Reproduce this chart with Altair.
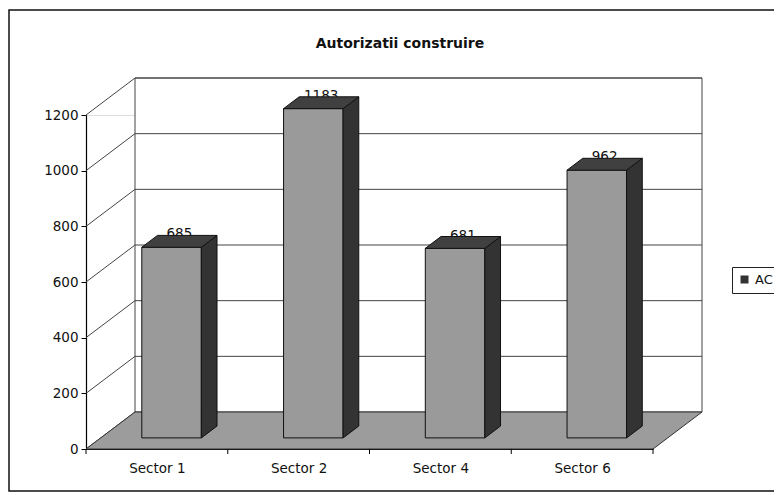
import json
import altair as alt
import pandas as pd

# ---- data ----
CATEGORIES = ["Sector 1", "Sector 2", "Sector 4", "Sector 6"]
VALUES = [685, 1183, 681, 962]
SERIES = "AC"
TITLE = "Autorizatii construire"
Y_TICKS = [0, 200, 400, 600, 800, 1000, 1200]

# ---- geometry (pixels) ----
W, H = 567, 334
Y_MAX = 1200
N = len(CATEGORIES)
DEPTH_X_PX, DEPTH_Y_PX = 49, 37
DXU = DEPTH_X_PX / W * N          # depth in x data units
DYU = DEPTH_Y_PX / H * Y_MAX      # depth in y data units
F0, F1 = 0.30, 0.62               # bar front / back depth fraction
BAR_W = 0.42                      # bar width as fraction of band
FONT = "DejaVu Sans"
FS = 13.5

front_rows, side_rows, top_rows, label_rows = [], [], [], []
for i, (cat, v) in enumerate(zip(CATEGORIES, VALUES)):
    x0 = i + 0.5 - BAR_W / 2 + F0 * DXU
    x1 = x0 + BAR_W
    d = (F1 - F0) * DXU
    front_rows.append(dict(cat=cat, x0=x0, x1=x1, y0=F0 * DYU, y1=v + F0 * DYU))
    side_rows += [
        dict(cat=cat, series=SERIES, x=x1, lo=F0 * DYU, hi=v + F0 * DYU),
        dict(cat=cat, series=SERIES, x=x1 + d, lo=F1 * DYU, hi=v + F1 * DYU),
    ]
    top_rows += [
        dict(cat=cat, y=v + F0 * DYU, xa=x0, xb=x1),
        dict(cat=cat, y=v + F1 * DYU, xa=x0 + d, xb=x1 + d),
    ]
    label_rows.append(dict(cat=cat, x=(x0 + x1) / 2 + d / 2, y=v + F1 * DYU, label=str(v)))

front_df = pd.DataFrame(front_rows)
side_df = pd.DataFrame(side_rows)
top_df = pd.DataFrame(top_rows)
label_df = pd.DataFrame(label_rows)

wall_df = pd.DataFrame([dict(x=DXU, x2=N + DXU, y=DYU, y2=Y_MAX + DYU)])
grid_df = pd.DataFrame([dict(x=DXU, x2=N + DXU, y=t + DYU) for t in Y_TICKS[1:]])
side_grid_df = pd.DataFrame([dict(x=0, x2=DXU, y=t, y2=t + DYU) for t in Y_TICKS])
floor_df = pd.DataFrame([dict(y=0, xa=0, xb=N), dict(y=DYU, xa=DXU, xb=N + DXU)])
tick_df = pd.DataFrame([dict(x=b) for b in range(N + 1)])
frame_df = pd.DataFrame([dict(k=1)])
title_df = pd.DataFrame([dict(t=TITLE)])

XS = alt.Scale(domain=[0, N], nice=False, zero=False)
YS = alt.Scale(domain=[0, Y_MAX], nice=False, zero=False)

label_expr = json.dumps(CATEGORIES) + "[floor(datum.value)]"

x_axis = alt.Axis(values=[i + 0.5 for i in range(N)], labelExpr=label_expr, ticks=False,
                  tickSize=0, grid=False, title=None, domainColor="#000", domainWidth=1.2,
                  labelFont=FONT, labelFontSize=FS, labelColor="#111", labelPadding=12)
y_axis = alt.Axis(values=Y_TICKS, grid=False, title=None, tickSize=5, tickColor="#000",
                  domainColor="#000", domainWidth=1.2, labelFont=FONT, labelFontSize=FS,
                  labelColor="#111", labelPadding=3, format="d")


def X(field):
    return alt.X(field, scale=XS, axis=x_axis)


def Y(field):
    return alt.Y(field, scale=YS, axis=y_axis)


frame = alt.Chart(frame_df).mark_rect(fill=None, stroke="#111", strokeWidth=1.5).encode(
    x=alt.value(-77), x2=alt.value(760), y=alt.value(-105), y2=alt.value(376))

title = alt.Chart(title_df).mark_text(font=FONT, fontSize=14, fontWeight="bold", color="#111",
                                      align="center", baseline="middle").encode(
    text="t:N", x=alt.value(314), y=alt.value(-71))

wall = alt.Chart(wall_df).mark_rect(fill="white", stroke="#444", strokeWidth=1).encode(
    x=X("x:Q"), x2="x2:Q", y=Y("y:Q"), y2="y2:Q")

grid = alt.Chart(grid_df).mark_rule(color="#444", strokeWidth=1).encode(
    x=X("x:Q"), x2="x2:Q", y=Y("y:Q"))

side_grid = alt.Chart(side_grid_df).mark_rule(color="#444", strokeWidth=1).encode(
    x=X("x:Q"), x2="x2:Q", y=Y("y:Q"), y2="y2:Q")

floor = alt.Chart(floor_df).mark_area(orient="horizontal", fill="#9c9c9c", stroke="#333",
                                      strokeWidth=1).encode(
    y=Y("y:Q"), x=X("xa:Q"), x2="xb:Q")

ticks = alt.Chart(tick_df).mark_rule(color="#000").encode(
    x=X("x:Q"), y=alt.value(H), y2=alt.value(H + 5))

labels = alt.Chart(label_df).mark_text(font=FONT, fontSize=FS, baseline="alphabetic",
                                       align="center", dy=3, color="#111").encode(
    x=X("x:Q"), y=Y("y:Q"), text="label:N")

front = alt.Chart(front_df).mark_rect(fill="#9a9a9a", stroke="#111", strokeWidth=1).encode(
    x=X("x0:Q"), x2="x1:Q", y=Y("y0:Q"), y2="y1:Q")

side = alt.Chart(side_df).mark_area(stroke="#111", strokeWidth=1, opacity=1).encode(
    x=X("x:Q"), y=Y("lo:Q"), y2="hi:Q",
    detail="cat:N",
    color=alt.Color("series:N", scale=alt.Scale(range=["#333333"]),
                    legend=alt.Legend(title=None, orient="none", legendX=646, legendY=152,
                                      symbolType="square", symbolSize=64, symbolStrokeWidth=0,
                                      labelFont=FONT, labelFontSize=13, labelColor="#111",
                                      labelOffset=4, strokeColor="#222", fillColor="white",
                                      padding=6)))

top = alt.Chart(top_df).mark_area(orient="horizontal", fill="#404040", stroke="#111",
                                  strokeWidth=1).encode(
    y=Y("y:Q"), x=X("xa:Q"), x2="xb:Q", detail="cat:N")

chart = alt.layer(frame, title, wall, grid, side_grid, floor, labels, ticks, front, side, top).properties(
    width=W, height=H,
    padding={"left": 78, "top": 107, "right": 121, "bottom": 43},
    autosize=alt.AutoSizeParams(type="none"),
).configure_view(stroke=None).configure(background="white")

chart.save("out.html", embed_options={"renderer": "svg", "actions": False})
